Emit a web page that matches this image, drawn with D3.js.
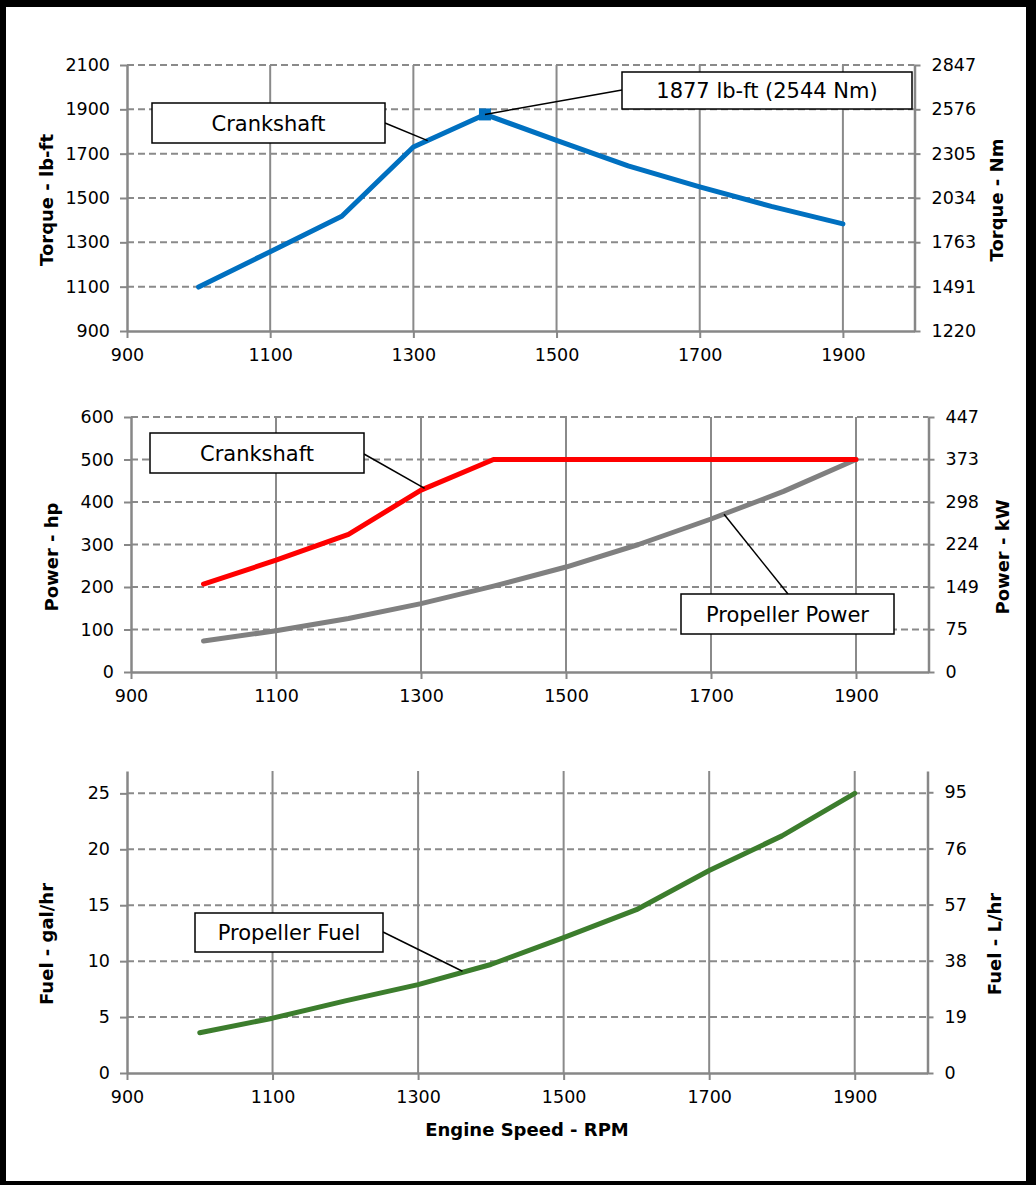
<!DOCTYPE html>
<meta charset="utf-8">
<style>
    body { margin: 0; background: #fff; }
    svg, svg text { font-family: "DejaVu Sans", Verdana, sans-serif; }
    svg { display: block; }
    .tick text { font-size: 17.5px; fill: #000; }
    .tick line { stroke: #878787; stroke-width: 2; }
    .domain { stroke: #878787; stroke-width: 2.5; }
    .grid-h { stroke: #8a8a8a; stroke-width: 2; stroke-dasharray: 7,4; }
    .grid-v { stroke: #8a8a8a; stroke-width: 2; }
    .title { font-size: 18px; font-weight: bold; fill: #000; }
    .note rect { fill: #fff; stroke: #000; stroke-width: 1.5; }
    .note text { font-size: 21px; fill: #000; }
    .leader { stroke: #000; stroke-width: 1.5; }
    .series { fill: none; stroke-width: 5; stroke-linecap: round; stroke-linejoin: round; }
</style>
<svg width="1036" height="1185"></svg>
<script src="https://d3js.org/d3.v7.min.js"></script>
<script>

    // engine speed (rpm) of each reading
    var rpm = [1000, 1100, 1200, 1300, 1400, 1500, 1600, 1700, 1800, 1900];

    var torqueLbFt   = [1098, 1258, 1418, 1730, 1877, 1760, 1645, 1550, 1462, 1383];
    var crankPowerHp = [207, 263, 324, 428, 500, 500, 500, 500, 500, 500];
    var propPowerHp  = [73, 97, 126, 161, 202, 247, 300, 360, 425, 500];
    var propFuelGph  = [3.6, 4.9, 6.45, 7.9, 9.7, 12.1, 14.6, 18.1, 21.2, 25.0];

    var rpmTicks = [900, 1100, 1300, 1500, 1700, 1900];
    var torqueTicks   = [900, 1100, 1300, 1500, 1700, 1900, 2100];
    var torqueNmTicks = [1220, 1491, 1763, 2034, 2305, 2576, 2847];
    var powerTicks    = [0, 100, 200, 300, 400, 500, 600];
    var powerKwTicks  = [0, 75, 149, 224, 298, 373, 447];
    var fuelTicks     = [0, 5, 10, 15, 20, 25];
    var fuelLhrTicks  = [0, 19, 38, 57, 76, 95];

    var svg = d3.select("svg");

    // black frame
    svg.append("rect").attr("width", 1036).attr("height", 1185).attr("fill", "#000");
    svg.append("rect").attr("x", 6).attr("y", 7).attr("width", 1020).attr("height", 1174).attr("fill", "#fff");

    var panels = [
        {
            xr: [127, 914.5], yr: [331, 65],
            yDomain: [900, 2100], y2Domain: [1220, 2847],
            ticks: torqueTicks, ticks2: torqueNmTicks,
            titleL: "Torque - lb-ft", titleR: "Torque - Nm",
            titleLx: 47, titleRx: 997, titleY: 200,
            series: [{values: torqueLbFt, color: "#0070C0"}],
            marker: {i: 4, color: "#0070C0"},
            notes: [
                {text: "Crankshaft", box: [152, 103, 233, 40], from: [385, 123], to: [1320, 1759]},
                {text: "1877 lb-ft (2544 Nm)", box: [622, 72, 290, 37], from: [622, 90], to: [1400, 1877]}
            ]
        },
        {
            xr: [131, 928.5], yr: [672, 417],
            yDomain: [0, 600], y2Domain: [0, 447],
            ticks: powerTicks, ticks2: powerKwTicks,
            titleL: "Power - hp", titleR: "Power - kW",
            titleLx: 52, titleRx: 1003, titleY: 557,
            series: [{values: propPowerHp, color: "#808080"}, {values: crankPowerHp, color: "#FF0000"}],
            notes: [
                {text: "Crankshaft", box: [150, 433, 214, 40], from: [364, 454], to: [1305, 432]},
                {text: "Propeller Power", box: [681, 594, 213, 40], from: [788, 594], to: [1718, 371]}
            ]
        },
        {
            xr: [127, 927.5], yr: [1073, 771],
            yDomain: [0, 27], y2Domain: [0, 102.2],
            ticks: fuelTicks, ticks2: fuelLhrTicks,
            titleL: "Fuel - gal/hr", titleR: "Fuel - L/hr",
            titleLx: 47, titleRx: 995, titleY: 944,
            series: [{values: propFuelGph, color: "#3C7D2D"}],
            notes: [
                {text: "Propeller Fuel", box: [195, 913, 188, 39], from: [383, 932], to: [1361, 9.1]}
            ],
            xTitle: "Engine Speed - RPM"
        }
    ];

    panels.forEach(function (p) {
        var x = d3.scaleLinear().domain([900, 2000]).range(p.xr);
        var y = d3.scaleLinear().domain(p.yDomain).range(p.yr);
        var y2 = d3.scaleLinear().domain(p.y2Domain).range(p.yr);
        var g = svg.append("g");

        // gridlines
        g.selectAll(".grid-h")
            .data(p.ticks.slice(1))
            .enter().append("line")
            .attr("class", "grid-h")
            .attr("x1", p.xr[0]).attr("x2", p.xr[1])
            .attr("y1", function (d) { return y(d); })
            .attr("y2", function (d) { return y(d); });

        g.selectAll(".grid-v")
            .data(rpmTicks.slice(1))
            .enter().append("line")
            .attr("class", "grid-v")
            .attr("y1", p.yr[0]).attr("y2", p.yr[1])
            .attr("x1", function (d) { return x(d); })
            .attr("x2", function (d) { return x(d); });

        // axes
        var axes = [
            g.append("g")
                .attr("transform", "translate(0," + p.yr[0] + ")")
                .call(d3.axisBottom(x).tickValues(rpmTicks).tickSize(7).tickSizeOuter(0).tickPadding(11).tickFormat(d3.format("d"))),
            g.append("g")
                .attr("transform", "translate(" + p.xr[0] + ",0)")
                .call(d3.axisLeft(y).tickValues(p.ticks).tickSize(7).tickSizeOuter(0).tickPadding(10).tickFormat(d3.format("d"))),
            g.append("g")
                .attr("transform", "translate(" + p.xr[1] + ",0)")
                .call(d3.axisRight(y2).tickValues(p.ticks2).tickSize(6).tickSizeOuter(0).tickPadding(11).tickFormat(d3.format("d")))
        ];
        axes.forEach(function (a) {
            a.attr("font-family", null).attr("font-size", null);
            a.selectAll(".domain").attr("stroke", null);
            a.selectAll(".tick line").attr("stroke", null);
        });

        // axis titles
        g.append("text")
            .attr("class", "title")
            .attr("transform", "translate(" + p.titleLx + "," + p.titleY + ") rotate(-90)")
            .attr("text-anchor", "middle")
            .attr("dy", "0.35em")
            .text(p.titleL);

        g.append("text")
            .attr("class", "title")
            .attr("transform", "translate(" + p.titleRx + "," + p.titleY + ") rotate(-90)")
            .attr("text-anchor", "middle")
            .attr("dy", "0.35em")
            .text(p.titleR);

        if (p.xTitle) {
            g.append("text")
                .attr("class", "title")
                .attr("x", 527).attr("y", 1136)
                .attr("text-anchor", "middle")
                .text(p.xTitle);
        }

        // series
        var line = d3.line()
            .x(function (d, i) { return x(rpm[i]); })
            .y(function (d) { return y(d); });

        p.series.forEach(function (s) {
            g.append("path")
                .attr("class", "series")
                .attr("stroke", s.color)
                .attr("d", line(s.values));
        });

        if (p.marker) {
            var m = p.marker;
            g.append("rect")
                .attr("x", x(rpm[m.i]) - 6).attr("y", y(p.series[0].values[m.i]) - 6)
                .attr("width", 12).attr("height", 12)
                .attr("fill", m.color);
        }

        // callouts
        p.notes.forEach(function (n) {
            g.append("line")
                .attr("class", "leader")
                .attr("x1", n.from[0]).attr("y1", n.from[1])
                .attr("x2", x(n.to[0])).attr("y2", y(n.to[1]));
            var b = g.append("g").attr("class", "note");
            b.append("rect")
                .attr("x", n.box[0]).attr("y", n.box[1])
                .attr("width", n.box[2]).attr("height", n.box[3]);
            b.append("text")
                .attr("x", n.box[0] + n.box[2] / 2)
                .attr("y", n.box[1] + n.box[3] / 2)
                .attr("dy", "0.36em")
                .attr("text-anchor", "middle")
                .text(n.text);
        });
    });

</script>
